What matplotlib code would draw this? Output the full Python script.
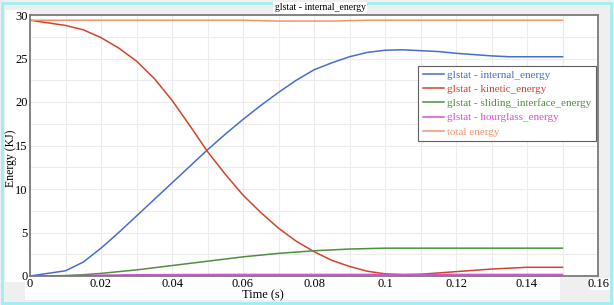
import matplotlib.pyplot as plt
import matplotlib.patches as patches
import numpy as np

plt.rcParams['font.family'] = ['Liberation Serif', 'DejaVu Serif']

# values
t = [0, 0.005, 0.01, 0.015, 0.02, 0.025, 0.03, 0.035, 0.04, 0.045, 0.05, 0.055, 0.06,
     0.065, 0.07, 0.075, 0.08, 0.085, 0.09, 0.095, 0.1, 0.105, 0.11, 0.115, 0.12,
     0.125, 0.13, 0.135, 0.14, 0.145, 0.15]
internal = [0, 0.3, 0.6, 1.6, 3.2, 5.0, 6.9, 8.8, 10.7, 12.6, 14.5, 16.3, 18.0,
            19.6, 21.1, 22.5, 23.7, 24.5, 25.2, 25.7, 25.95, 26.0, 25.9, 25.8, 25.6,
            25.45, 25.3, 25.2, 25.2, 25.2, 25.2]
kinetic = [29.4, 29.1, 28.8, 28.3, 27.4, 26.2, 24.7, 22.7, 20.2, 17.3, 14.3, 11.7, 9.3,
           7.3, 5.5, 4.0, 2.8, 1.8, 1.1, 0.55, 0.25, 0.15, 0.2, 0.35, 0.5,
           0.65, 0.8, 0.9, 1.0, 1.0, 1.0]
sliding = [0, 0, 0.05, 0.15, 0.3, 0.5, 0.7, 0.95, 1.2, 1.45, 1.7, 1.95, 2.2,
           2.4, 2.6, 2.75, 2.9, 3.0, 3.1, 3.15, 3.2, 3.2, 3.2, 3.2, 3.2,
           3.2, 3.2, 3.2, 3.2, 3.2, 3.2]
hourglass = [0, 0.01, 0.03, 0.06, 0.1, 0.12, 0.14, 0.15, 0.16, 0.17, 0.17, 0.18, 0.18,
             0.18, 0.18, 0.18, 0.18, 0.18, 0.18, 0.18, 0.18, 0.18, 0.18, 0.18, 0.18,
             0.18, 0.18, 0.18, 0.18, 0.18, 0.18]
total = [29.4, 29.4, 29.4, 29.4, 29.4, 29.4, 29.4, 29.4, 29.4, 29.4, 29.4, 29.4, 29.4,
         29.35, 29.3, 29.3, 29.3, 29.3, 29.35, 29.4, 29.4, 29.4, 29.4, 29.4, 29.4,
         29.4, 29.4, 29.4, 29.4, 29.4, 29.4]

names = ['glstat - internal_energy', 'glstat - kinetic_energy',
         'glstat - sliding_interface_energy', 'glstat - hourglass_energy', 'total energy']
colors = ['#4a6ccc', '#d4432e', '#4f8f3f', '#d653d6', '#f3946c']

fig = plt.figure(figsize=(6.14, 3.05), dpi=100, facecolor='#efefef')

# white panels behind the labels
fig.patches.append(patches.Rectangle((5/614, 1-282/305), 25/614, 272/305, transform=fig.transFigure,
                                     facecolor='white', edgecolor='none', zorder=-2))
fig.patches.append(patches.Rectangle((25/614, 1-300/305), 535/614, 24/305, transform=fig.transFigure,
                                     facecolor='white', edgecolor='none', zorder=-2))
fig.patches.append(patches.Rectangle((590/614, 1-290/305), 20/614, 12/305, transform=fig.transFigure,
                                     facecolor='white', edgecolor='none', zorder=-2))
# cyan frame
fig.patches.append(patches.Rectangle((2/614, 2/305), 609/614, 300/305, transform=fig.transFigure,
                                     facecolor='none', edgecolor='#9ceff4', linewidth=2))

ax = fig.add_axes([30/614, 1-276/305, 568/614, 261/305])
for y, c, n in zip([internal, kinetic, sliding, hourglass, total], colors, names):
    ax.plot(t, y, color=c, linewidth=1.1, label=n)

ax.set_xlim(0, 0.16)
ax.set_ylim(0, 30)
ax.set_xticks(np.arange(0, 0.161, 0.02))
ax.set_xticklabels(['0', '0.02', '0.04', '0.06', '0.08', '0.1', '0.12', '0.14', '0.16'])
ax.set_yticks([0, 5, 10, 15, 20, 25, 30])
ax.set_xticks(np.arange(0, 0.161, 0.01), minor=True)
ax.set_yticks(np.arange(0, 30.1, 2.5), minor=True)
ax.grid(True, which='both', color='#ececec', linewidth=0.8)
ax.tick_params(which='both', length=0, labelsize=9, pad=1.5)
for s in ax.spines.values():
    s.set_color('#7a7a7a')
    s.set_linewidth(1.3)

ax.set_xlabel('Time (s)', fontsize=9)
ax.set_ylabel('Energy (KJ)', fontsize=8.5)
ax.xaxis.set_label_coords(0.41, -0.05)
ax.yaxis.set_label_coords(-0.0235, 0.45)
fig.text(320/614, 1-8/305, 'glstat - internal_energy', ha='center', va='center', fontsize=7,
         bbox=dict(facecolor='white', edgecolor='none', pad=1))

leg = ax.legend(loc='upper right', bbox_to_anchor=(1.0, 0.815), fontsize=8, handlelength=1.9,
                handletextpad=0.3, borderpad=0.4, labelspacing=0.4, fancybox=False,
                edgecolor='#606060', framealpha=1, borderaxespad=0.2)
leg.get_frame().set_linewidth(0.8)
for txt, c in zip(leg.get_texts(), colors):
    txt.set_color(c)

fig.savefig('out.png', dpi=100, facecolor=fig.get_facecolor())
